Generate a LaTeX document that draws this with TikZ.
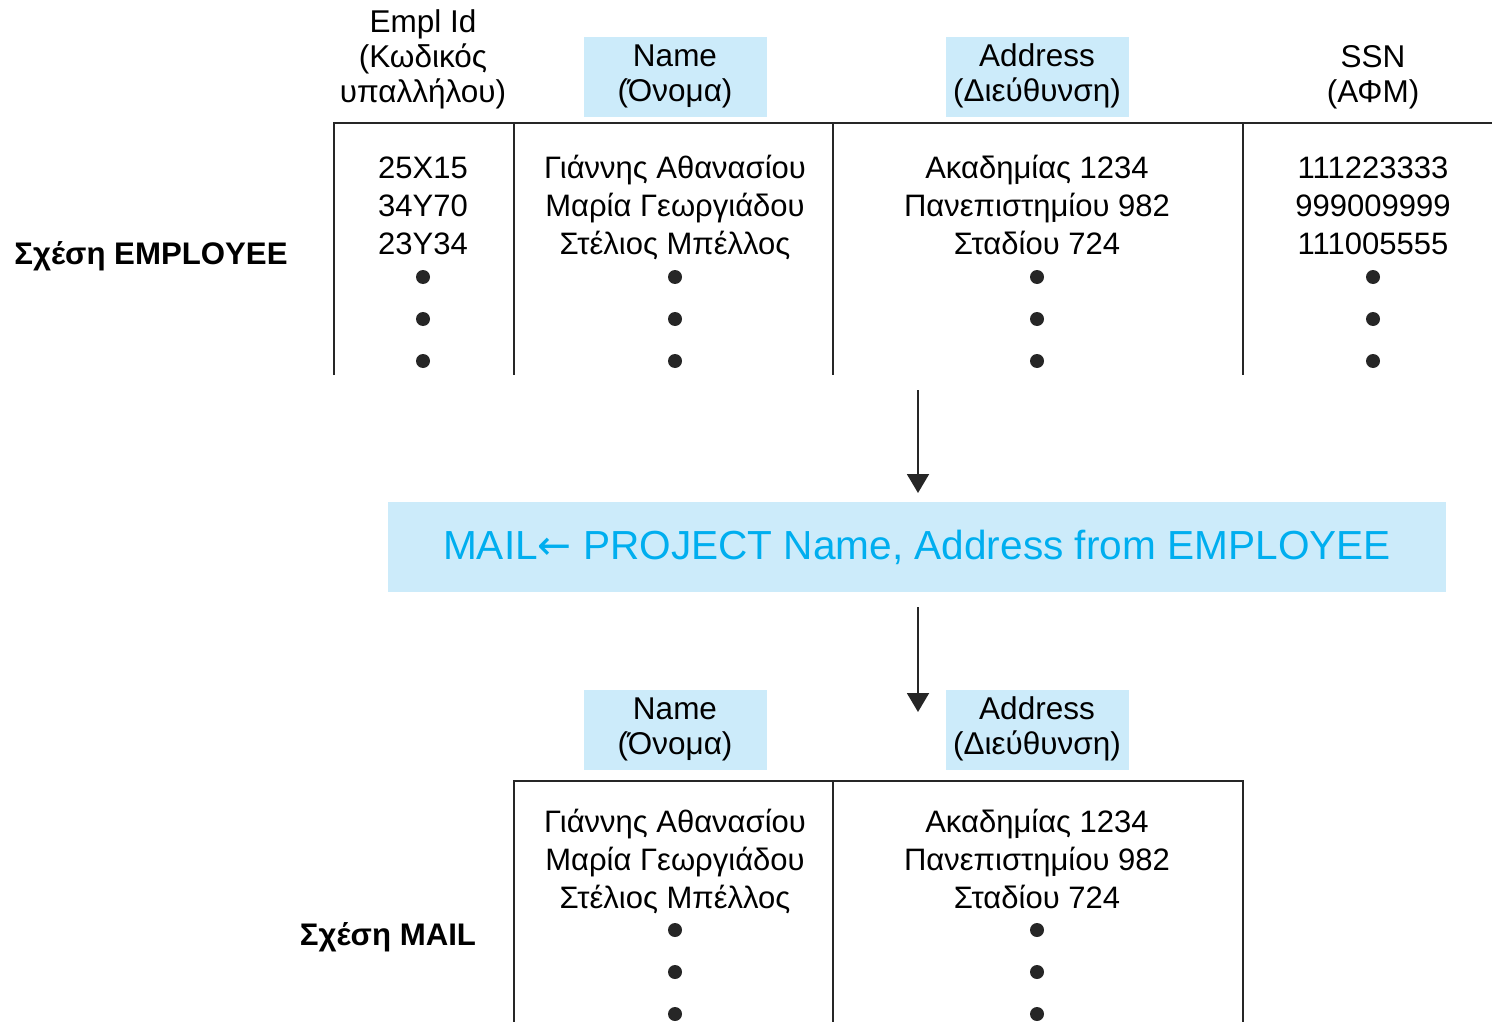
\documentclass[tikz,border=0pt]{standalone}
\usepackage{fontspec}
\setmainfont{Liberation Sans}
\newfontfamily\arrowfont{DejaVu Sans}
\usetikzlibrary{arrows.meta}
\definecolor{hdrfill}{HTML}{CCEBFA}
\definecolor{formcol}{HTML}{00AEEF}
\begin{document}
\begin{tikzpicture}[x=1pt,y=-1pt,
  tab/.style={line width=2.4pt, draw=black!85},
  hdr/.style={fill=hdrfill, minimum width=183pt, minimum height=80pt, inner sep=0pt, align=center, font=\fontsize{31.5}{35}\selectfont},
  hdrplain/.style={inner sep=0pt, align=center, font=\fontsize{31.5}{35}\selectfont},
  cell/.style={inner sep=0pt, align=center, font=\fontsize{31}{38}\selectfont},
  rel/.style={inner sep=0pt, font=\bfseries\fontsize{31.2}{36}\selectfont},
  flow/.style={line width=2pt, draw=black!85, -{Triangle[length=19pt,width=22pt]}},
  dot/.style={circle, fill=black!85, inner sep=0pt, minimum size=14pt}
]
\useasboundingbox (0,0) rectangle (1492,1022);

% ---------- EMPLOYEE relation ----------
\node[hdrplain] (hid) at (423,61) {\strut Empl Id\\(Κωδικός\\υπαλλήλου)\strut};
\node[hdr] (hname) at (675,77) {\strut Name\\(Όνομα)\strut};
\node[hdr] (haddr) at (1037,77) {\strut Address\\(Διεύθυνση)\strut};
\node[hdrplain] (hssn) at (1373,78) {\strut SSN\\(ΑΦΜ)\strut};

\draw[tab] (334,375) -- (334,123) -- (1492,123);
\draw[tab] (514,123) -- (514,375);
\draw[tab] (833,123) -- (833,375);
\draw[tab] (1243,123) -- (1243,375);

\node[cell] (cid) at (423,209) {\strut 25X15\\34Y70\\23Y34\strut};
\node[cell] (cname) at (675,209) {\strut Γιάννης Αθανασίου\\Μαρία Γεωργιάδου\\Στέλιος Μπέλλος\strut};
\node[cell] (caddr) at (1037,209) {\strut Ακαδημίας 1234\\Πανεπιστημίου 982\\Σταδίου 724\strut};
\node[cell] (cssn) at (1373,209) {\strut 111223333\\999009999\\111005555\strut};

\foreach \cx/\nm in {423/i,675/n,1037/a,1373/s}{
  \node[dot] (d1\nm) at (\cx,277) {};
  \node[dot] (d2\nm) at (\cx,319) {};
  \node[dot] (d3\nm) at (\cx,361) {};
}

\node[rel] (remp) at (151,256) {Σχέση EMPLOYEE};

% ---------- operation ----------
\node[fill=hdrfill, minimum width=1058pt, minimum height=90pt, inner sep=0pt,
      text=formcol, font=\fontsize{40.6}{48}\selectfont] (form) at (917,547)
      {MAIL{\arrowfont ←} PROJECT Name, Address from EMPLOYEE};

\coordinate (a1s) at (918,390);
\coordinate (a1e) at (918,493);
\draw[flow] (a1s) -- (a1e);
\coordinate (a2s) at (918,607);
\coordinate (a2e) at (918,712);
\draw[flow] (a2s) -- (a2e);

% ---------- MAIL relation ----------
\node[hdr] (mhname) at (675,730) {\strut Name\\(Όνομα)\strut};
\node[hdr] (mhaddr) at (1037,730) {\strut Address\\(Διεύθυνση)\strut};

\draw[tab] (514,1022) -- (514,781) -- (1243,781) -- (1243,1022);
\draw[tab] (833,781) -- (833,1022);

\node[cell] (mname) at (675,863) {\strut Γιάννης Αθανασίου\\Μαρία Γεωργιάδου\\Στέλιος Μπέλλος\strut};
\node[cell] (maddr) at (1037,863) {\strut Ακαδημίας 1234\\Πανεπιστημίου 982\\Σταδίου 724\strut};

\foreach \cx/\nm in {675/n,1037/a}{
  \node[dot] (md1\nm) at (\cx,930) {};
  \node[dot] (md2\nm) at (\cx,972) {};
  \node[dot] (md3\nm) at (\cx,1014) {};
}

\node[rel] (rmail) at (388,937) {Σχέση MAIL};
\end{tikzpicture}
\end{document}
